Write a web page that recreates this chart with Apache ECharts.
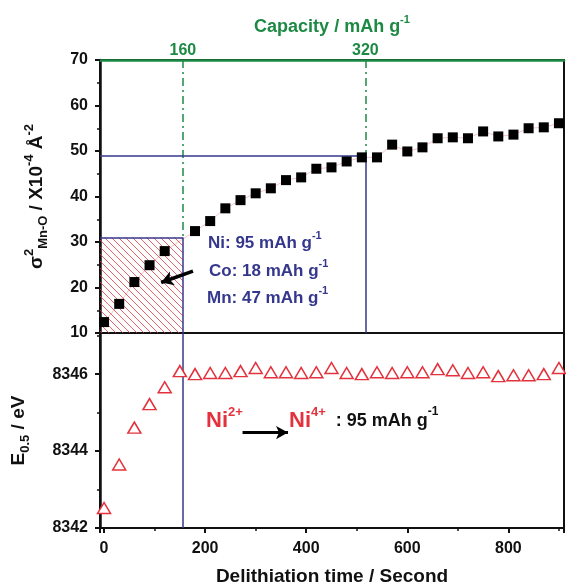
<!DOCTYPE html>
<html>
<head>
  <meta charset="UTF-8">
  <title>sigma / E0.5 vs delithiation time</title>
  <script src="https://cdn.jsdelivr.net/npm/echarts@6/dist/echarts.min.js"></script>
  <style>
    html, body { margin: 0; padding: 0; background: #fff; }
    #main { width: 566px; height: 583px; }
  </style>
</head>
<body>
<div id="main"></div>
<script>
  // sigma^2 Mn-O (x1e-4 A^-2), square markers
  var sigmaTimes = [0, 30, 60, 90, 120, 180, 210, 240, 270, 300, 330, 360, 390, 420, 450,
    480, 510, 540, 570, 600, 630, 660, 690, 720, 750, 780, 810, 840, 870, 900];
  var sigmaValues = [12.4, 16.4, 21.2, 24.9, 28.0, 32.4, 34.6, 37.4, 39.2, 40.7, 41.8, 43.6, 44.2, 46.1, 46.4,
    47.7, 48.6, 48.6, 51.4, 49.9, 50.8, 52.8, 53.0, 52.8, 54.3, 53.2, 53.6, 55.0, 55.2, 56.1];

  // E0.5 (eV), triangle markers
  var edgeTimes = [0, 30, 60, 90, 120, 150, 180, 210, 240, 270, 300, 330, 360, 390, 420, 450,
    480, 510, 540, 570, 600, 630, 660, 690, 720, 750, 780, 810, 840, 870, 900];
  var edgeValues = [8342.52, 8343.65, 8344.61, 8345.22, 8345.66, 8346.08, 8346.00, 8346.03, 8346.03, 8346.08,
    8346.16, 8346.05, 8346.05, 8346.03, 8346.05, 8346.16, 8346.03, 8346.00, 8346.05, 8346.03, 8346.05,
    8346.05, 8346.13, 8346.10, 8346.03, 8346.05, 8345.95, 8345.97, 8345.97, 8346.00, 8346.16];

  // capacity axis: tick values and the delithiation time where each is reached
  var capTicks = [160, 320];
  var capTimes = [156, 517];
  var capSigma = [31, 49];   // sigma level where the guide lines meet

  var timeMin = -8, timeMax = 910;
  var edgeMax = 8347.07;

  var green = '#1d8a44', navy = '#34378c', red = '#e3323d';
  var font = 'Liberation Sans, Arial, sans-serif';

  var k = (capTicks[1] - capTicks[0]) / (capTimes[1] - capTimes[0]);
  var capMin = capTicks[0] + (timeMin - capTimes[0]) * k;
  var capMax = capTicks[0] + (timeMax - capTimes[0]) * k;

  function pairs(xs, ys) {
    return xs.map(function (x, i) { return [x, ys[i]]; });
  }

  // red hatch pattern
  var hatch = document.createElement('canvas');
  hatch.width = 7; hatch.height = 7;
  var hc = hatch.getContext('2d');
  hc.strokeStyle = 'rgba(227,50,61,0.85)'; hc.lineWidth = 0.9;
  hc.beginPath(); hc.moveTo(0, 0); hc.lineTo(7, 7); hc.stroke();

  var sup = function (size, color) {
    return { fontSize: size, fontWeight: 'bold', fontFamily: font, color: color, verticalAlign: 'top', lineHeight: size };
  };
  var sub = function (size, color) {
    return { fontSize: size, fontWeight: 'bold', fontFamily: font, color: color, verticalAlign: 'bottom', lineHeight: size };
  };
  var txt = function (size, color) {
    return { fontSize: size, fontWeight: 'bold', fontFamily: font, color: color, lineHeight: size + 8 };
  };
  function gsup(size, color) {
    return { fontSize: size, fontWeight: 'bold', fontFamily: font, fill: color, verticalAlign: 'top', lineHeight: size };
  }
  function gtxt(size, color) {
    return { fontSize: size, fontWeight: 'bold', fontFamily: font, fill: color, lineHeight: size + 8 };
  }
  function note(x, y, text, rich) {
    return { type: 'text', x: x, y: y, z: 100, style: { text: text, rich: rich, verticalAlign: 'middle', align: 'left' } };
  }
  function plain(v) { return String(v); }

  var navyRich = { t: gtxt(17, navy), s: gsup(11, navy) };
  var redRich = { ni: gtxt(22, red), s: gsup(13, red), b: gtxt(18, '#111'), bs: gsup(12, '#111') };

  var blueLine = { color: navy, width: 1.5, type: 'solid' };

  var chart = echarts.init(document.getElementById('main'));
  chart.setOption({
    animation: false,
    grid: [
      { left: 100, top: 60, width: 464, height: 273, show: true, borderColor: '#111', borderWidth: 2, outerBoundsMode: 'none', containLabel: false },
      { left: 100, top: 333, width: 464, height: 195, show: true, borderColor: '#111', borderWidth: 2, outerBoundsMode: 'none', containLabel: false }
    ],
    xAxis: [
      { type: 'value', gridIndex: 0, min: timeMin, max: timeMax, show: false },
      {
        type: 'value', gridIndex: 1, min: timeMin, max: timeMax, splitNumber: 5,
        name: 'Delithiation time / Second', nameLocation: 'middle', nameGap: 39,
        nameTextStyle: { fontSize: 19, fontWeight: 'bold', fontFamily: font, color: '#111' },
        axisLine: { onZero: false, lineStyle: { color: '#111', width: 2 } },
        axisTick: { length: 5, lineStyle: { width: 2, color: '#111' } },
        minorTick: { show: true, splitNumber: 2, length: 3, lineStyle: { width: 1.5, color: '#111' } },
        splitLine: { show: false },
        axisLabel: { showMinLabel: false, showMaxLabel: false, margin: 13, formatter: plain, fontSize: 16, fontWeight: 'bold', fontFamily: font, color: '#111' }
      },
      {
        type: 'value', gridIndex: 0, position: 'top', min: capMin, max: capMax,
        name: '{t|Capacity / mAh g}{s|-1}', nameLocation: 'middle', nameGap: 20,
        nameTextStyle: { rich: { t: txt(18, green), s: sup(11, green) } },
        axisLine: { onZero: false, lineStyle: { color: green, width: 2.5 } },
        axisTick: { show: false },
        splitLine: { show: false },
        axisLabel: { customValues: capTicks, margin: 1, formatter: plain, fontSize: 16, fontWeight: 'bold', fontFamily: font, color: green }
      }
    ],
    yAxis: [
      {
        type: 'value', gridIndex: 0, min: 10, max: 70, interval: 10,
        name: '{t|σ}{s|2}{b|Mn-O}{t| / X10}{s|-4}{t| Å}{s|-2}', nameLocation: 'middle', nameGap: 50,
        nameTextStyle: { rich: { t: txt(19, '#111'), s: sup(13, '#111'), b: sub(13, '#111') } },
        axisLine: { onZero: false, lineStyle: { color: '#111', width: 2.5 } },
        axisTick: { length: 5, lineStyle: { width: 2, color: '#111' } },
        minorTick: { show: true, splitNumber: 2, length: 3, lineStyle: { width: 1.5, color: '#111' } },
        splitLine: { show: false },
        axisLabel: { margin: 12, formatter: plain, fontSize: 16, fontWeight: 'bold', fontFamily: font, color: '#111' }
      },
      {
        type: 'value', gridIndex: 1, min: 8342, max: edgeMax, interval: 2,
        name: '{t|E}{b|0.5}{t| / eV}', nameLocation: 'middle', nameGap: 68,
        nameTextStyle: { rich: { t: txt(19, '#111'), b: sub(13, '#111') } },
        axisLine: { onZero: false, lineStyle: { color: '#111', width: 2.5 } },
        axisTick: { length: 5, lineStyle: { width: 2, color: '#111' } },
        minorTick: { show: true, splitNumber: 2, length: 3, lineStyle: { width: 1.5, color: '#111' } },
        splitLine: { show: false },
        axisLabel: { showMaxLabel: false, margin: 12, formatter: plain, fontSize: 16, fontWeight: 'bold', fontFamily: font, color: '#111' }
      }
    ],
    series: [
      {
        type: 'line', xAxisIndex: 0, yAxisIndex: 0, z: 2,
        data: pairs(sigmaTimes, sigmaValues), symbol: 'none',
        lineStyle: { color: 'rgba(225,80,80,0.35)', width: 1 },
        markArea: {
          silent: true,
          itemStyle: { color: { image: hatch, repeat: 'repeat' } },
          data: [[{ coord: [timeMin, 10] }, { coord: [capTimes[0], capSigma[0]] }]]
        },
        markLine: {
          silent: true, symbol: ['none', 'none'], label: { show: false },
          lineStyle: { color: green, width: 1.5, type: [8, 4, 2, 4] },
          data: [
            [{ coord: [capTimes[0], 70] }, { coord: [capTimes[0], capSigma[0]] }],
            [{ coord: [capTimes[1], 70] }, { coord: [capTimes[1], capSigma[1]] }]
          ]
        }
      },
      {
        type: 'scatter', xAxisIndex: 0, yAxisIndex: 0, z: 5,
        data: pairs(sigmaTimes, sigmaValues), symbol: 'rect', symbolSize: 10,
        itemStyle: { color: '#000', opacity: 1 },
        markLine: {
          silent: true, symbol: ['none', 'none'], label: { show: false },
          lineStyle: blueLine,
          data: [
            [{ coord: [timeMin, capSigma[0]] }, { coord: [capTimes[0], capSigma[0]] }],
            [{ coord: [capTimes[0], capSigma[0]] }, { coord: [capTimes[0], 10] }],
            [{ coord: [timeMin, capSigma[1]] }, { coord: [capTimes[1], capSigma[1]] }],
            [{ coord: [capTimes[1], capSigma[1]] }, { coord: [capTimes[1], 10] }],
            [{ coord: [176, 23.6], symbol: 'none' },
             { coord: [113, 21.1], symbol: 'arrow', symbolSize: [11, 12], lineStyle: { color: '#000', width: 3.5 } }]
          ]
        }
      },
      {
        type: 'scatter', xAxisIndex: 1, yAxisIndex: 1, z: 5,
        data: pairs(edgeTimes, edgeValues), symbol: 'triangle', symbolSize: [13, 11],
        itemStyle: { color: '#fff', borderColor: red, borderWidth: 1.5, opacity: 1 },
        markLine: {
          silent: true, symbol: ['none', 'none'], label: { show: false },
          lineStyle: blueLine,
          data: [
            [{ coord: [capTimes[0], 8342] }, { coord: [capTimes[0], edgeMax] }],
            [{ coord: [274, 8344.48], symbol: 'none' },
             { coord: [364, 8344.48], symbol: 'arrow', symbolSize: [10, 12], lineStyle: { color: '#000', width: 3 } }]
          ]
        }
      }
    ],
    graphic: [
      note(208, 243, '{t|Ni: 95 mAh g}{s|-1}', navyRich),
      note(209, 271, '{t|Co: 18 mAh g}{s|-1}', navyRich),
      note(207, 298, '{t|Mn: 47 mAh g}{s|-1}', navyRich),
      note(206, 421, '{ni|Ni}{s|2+}', redRich),
      note(289, 421, '{ni|Ni}{s|4+}{b|  : 95 mAh g}{bs|-1}', redRich)
    ]
  });
</script>
</body>
</html>
